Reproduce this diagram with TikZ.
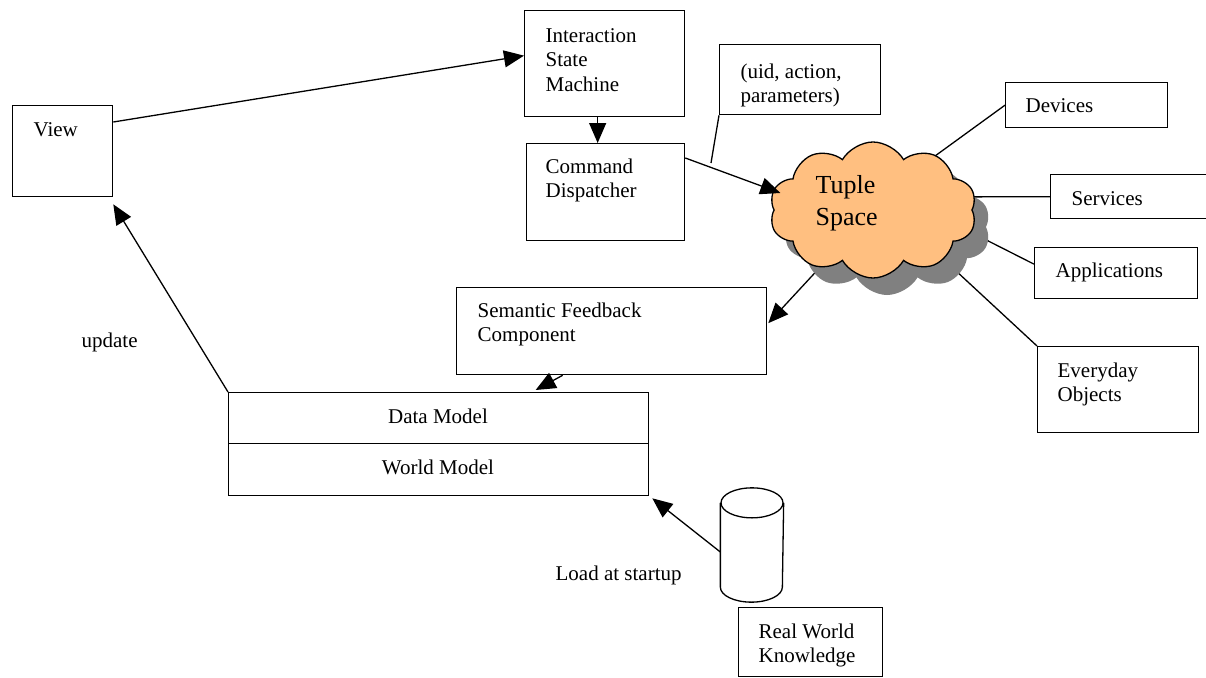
\documentclass[tikz,border=0pt]{standalone}
\usepackage{fontspec}
\setmainfont{Liberation Serif}
\usetikzlibrary{positioning}
\usetikzlibrary{arrows.meta}
\usetikzlibrary{calc}
\usetikzlibrary{shapes.symbols}
\usetikzlibrary{backgrounds}

\definecolor{cloudorange}{RGB}{255,191,128}
\definecolor{cloudshadow}{RGB}{128,128,128}

\begin{document}
\begin{tikzpicture}[x=1pt, y=-1pt, line width=1.3pt,
    every on background layer/.style={line width=1.3pt},
    box/.style={draw, anchor=north west, inner sep=0pt},
    txt/.style={anchor=base west, align=left, inner sep=0pt, font=\fontsize{21}{24.5}\selectfont},
    arr/.style={-{Triangle[length=20pt,width=17pt]}},
    puff/.style={cloud, cloud puffs=10, cloud puff arc=120, aspect=1.5,
                 minimum width=207pt, minimum height=136pt, inner sep=0pt}]

        % frame of the picture
        \useasboundingbox (0,0) rectangle (1206,677);

        % boxes
        \node[box, minimum width=100pt, minimum height=91pt] (view) at (12,105) {};
        \node[box, minimum width=160pt, minimum height=106pt] (ism) at (524,10) {};
        \node[box, minimum width=158pt, minimum height=97pt] (cd) at (526,143) {};
        \node[box, minimum width=161pt, minimum height=70pt] (uid) at (719,44) {};
        \node[box, minimum width=162pt, minimum height=45pt] (dev) at (1005,82) {};
        \node[box, minimum width=170pt, minimum height=44pt] (serv) at (1050,174) {};
        \node[box, minimum width=163pt, minimum height=51pt] (app) at (1034,247) {};
        \node[box, minimum width=161pt, minimum height=86pt] (eo) at (1037,346) {};
        \node[box, minimum width=310pt, minimum height=87pt] (sfc) at (456,287) {};
        \node[box, minimum width=420pt, minimum height=51pt] (dm) at (228,392) {};
        \node[box, minimum width=420pt, minimum height=52pt] (wm) at (228,443) {};
        \node[box, minimum width=144pt, minimum height=69pt] (rwk) at (738,607) {};
        \node[inner sep=0pt, minimum width=62pt, minimum height=113pt] (kb) at (752,545) {};
        \coordinate (uidtip) at (711,163);

        % the knowledge base drum
        \draw ($(kb.north)+(0,15)$) ellipse [x radius=31, y radius=15];
        \draw ($(kb.north west)+(0,15)$) -- ($(kb.south west)+(0,-15)$)
              arc [start angle=180, end angle=0, x radius=31, y radius=15]
              -- ($(kb.north east)+(0,15)$);

        % the tuple space
        \node[puff, fill=cloudshadow] (tsshadow) at (887,227) {};
        \node[puff, fill=cloudorange, draw] (ts) at (873,210) {};

        % texts
        \node[txt] (viewtxt) at (33,136) {View};
        \node[txt] (ismtxt) at (545,91) {Interaction\\State\\Machine};
        \node[txt] (cdtxt) at (545,197.5) {Command\\Dispatcher};
        \node[txt] (uidtxt) at (740,102.5) {(uid, action,\\parameters)};
        \node[txt] (devtxt) at (1025,112) {Devices};
        \node[txt] (servtxt) at (1071,205) {Services};
        \node[txt] (apptxt) at (1055,277) {Applications};
        \node[txt] (eotxt) at (1057,401.5) {Everyday\\Objects};
        \node[txt] (sfctxt) at (477,341.5) {Semantic Feedback\\Component};
        \node[txt, anchor=base] (dmtxt) at (438,423) {Data Model};
        \node[txt, anchor=base] (wmtxt) at (438,474) {World Model};
        \node[txt] (rwktxt) at (758,662.5) {Real World\\Knowledge};
        \node[txt, font=\fontsize{26}{32}\selectfont] (tstxt) at (815,225) {Tuple\\Space};
        \node[txt] (updtxt) at (81,347) {update};
        \node[txt] (loadtxt) at (555,580) {Load at startup};

        % connectors
        \draw[arr] ($(view.north east)+(0,17)$) -- ($(ism.west)+(0,-8)$);
        \draw[arr] ($(ism.south)+(-7,0)$) -- ($(cd.north)+(-8,0)$);
        \draw (uid.south west) -- (uidtip);
        \draw[arr] ($(cd.north east)+(0,15)$) -- ($(ts.west)+(7,-17)$);
        \draw[arr] (dm.north west) -- ($(view.south east)+(0,7)$);
        \draw[arr] ($(sfc.south)+(-49,0)$) -- ($(dm.north)+(97,-2)$);
        \draw[arr] ($(kb.west)+(0,7)$) -- ($(wm.south east)+(3,2)$);

        % lines hidden under the cloud
        \begin{scope}[on background layer]
          \draw[arr] (ts) -- ($(sfc.east)+(1,-8)$);
          \draw ($(ts)+(40,-38)$) -- (dev.west);
          \draw ($(ts)+(57,-13)$) -- (serv.west);
          \draw ($(ts)+(60,3)$) -- ($(app.west)+(0,-9)$);
          \draw ($(ts)+(27,9)$) -- (eo.north west);
        \end{scope}
\end{tikzpicture}
\end{document}
